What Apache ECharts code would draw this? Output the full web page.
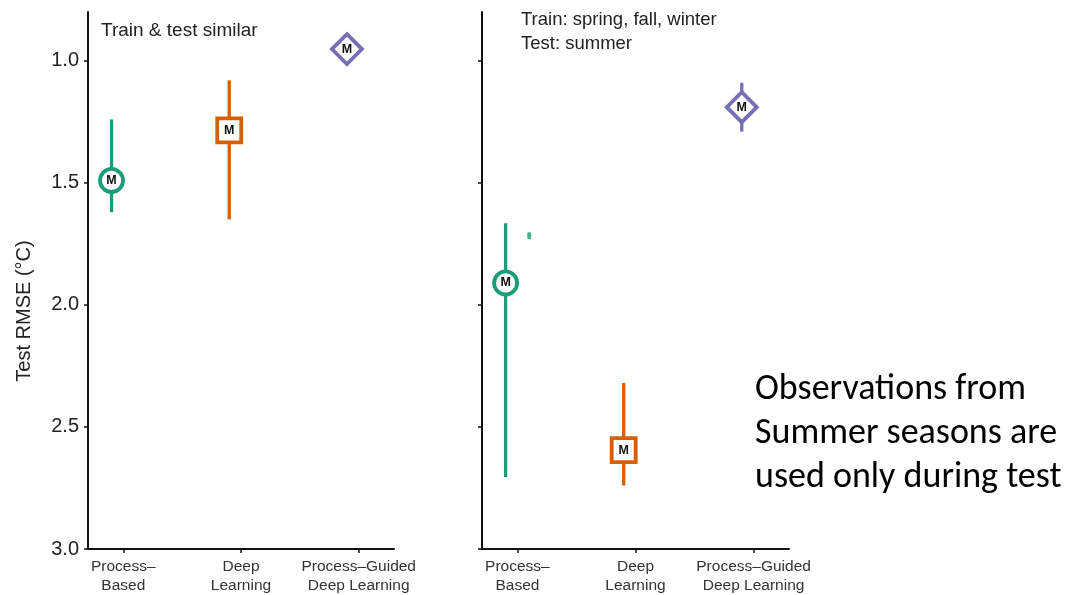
<!DOCTYPE html>
<html>
<head>
<meta charset="utf-8">
<script src="https://cdn.jsdelivr.net/npm/echarts@6/dist/echarts.min.js"></script>
<style>
  html, body { margin: 0; padding: 0; background: #fff; }
  #chart { width: 1065px; height: 595px; }
</style>
</head>
<body>
<div id="chart"></div>
<script>
// Model categories (x positions 1, 2, 3)
const categories = ['Process\u2013\nBased', 'Deep\nLearning', 'Process\u2013Guided\nDeep Learning'];
const yTicks = [1.0, 1.5, 2.0, 2.5, 3.0];

// Panel 1: train & test similar — mean and range of test RMSE (°C)
const similarMean = [1.49, 1.285, 0.952];
const similarLow  = [1.24, 1.08, 0.93];
const similarHigh = [1.62, 1.65, 0.975];

// Panel 2: train on spring/fall/winter, test on summer
const summerMean = [1.91, 2.595, 1.19];
const summerLow  = [1.665, 2.32, 1.09];
const summerHigh = [2.705, 2.74, 1.29];
// second dodged group, only a sliver of it visible
const summerStray = [1.717];

const colors = ['#1b9e77', '#d95f02', '#7570b3'];
const symbols = ['circle', 'rect', 'diamond'];
const symbolSizes = [[23, 23], [24, 24], [30, 30]];
const dodge = 0.1;   // horizontal offset of the two dodged groups

const baseFont = 'Liberation Sans, Arial, Helvetica, sans-serif';

function xAxisFor(gridIndex) {
  return {
    type: 'value', gridIndex, min: 0.7, max: 3.3,
    axisLine: { show: true, onZero: false, lineStyle: { color: '#111', width: 2 } },
    axisTick: { show: true, customValues: [1, 2, 3], length: 4, lineStyle: { color: '#111', width: 1.5 } },
    axisLabel: {
      customValues: [1, 2, 3], margin: 8,
      formatter: v => categories[Math.round(v) - 1],
      fontFamily: baseFont, fontSize: 15.5, lineHeight: 19, color: '#333'
    },
    splitLine: { show: false }
  };
}

function yAxisFor(gridIndex, showLabels) {
  return {
    type: 'value', gridIndex, inverse: true, min: 0.8, max: 3.0,
    axisLine: { show: true, onZero: false, lineStyle: { color: '#111', width: 2 } },
    axisTick: { show: true, customValues: yTicks, length: 4, lineStyle: { color: '#111', width: 1.5 } },
    axisLabel: {
      show: showLabels, customValues: yTicks, margin: 9,
      formatter: v => v.toFixed(1),
      fontFamily: baseFont, fontSize: 20, color: '#222'
    },
    splitLine: { show: false }
  };
}

// Vertical range bars drawn through the axis scales
function rangeSeries(axisIndex, low, high) {
  return {
    type: 'custom', xAxisIndex: axisIndex, yAxisIndex: axisIndex, z: 2,
    data: low.map((l, i) => [i + 1 - dodge, l, high[i], i]),
    renderItem: (params, api) => {
      const p1 = api.coord([api.value(0), api.value(1)]);
      const p2 = api.coord([api.value(0), api.value(2)]);
      return {
        type: 'line',
        shape: { x1: p1[0], y1: p1[1], x2: p2[0], y2: p2[1] },
        style: { stroke: colors[api.value(3)], lineWidth: 3.3 }
      };
    }
  };
}

function meanSeries(axisIndex, mean) {
  return mean.map((m, i) => ({
    type: 'scatter', xAxisIndex: axisIndex, yAxisIndex: axisIndex, z: 5,
    symbol: symbols[i], symbolSize: symbolSizes[i],
    data: [[i + 1 - dodge, m]],
    itemStyle: { color: '#fff', borderColor: colors[i], borderWidth: 3.8, opacity: 1 },
    label: {
      show: true, position: 'inside', formatter: 'M',
      fontFamily: baseFont, fontWeight: 'bold', fontSize: 12.5, color: '#111'
    },
    emphasis: { disabled: true }
  }));
}

const chart = echarts.init(document.getElementById('chart'));
chart.setOption({
  backgroundColor: '#fff',
  animation: false,
  grid: [
    { left: 88, top: 12, width: 306, height: 537, outerBoundsMode: 'none', containLabel: false },
    { left: 482, top: 12, width: 307, height: 537, outerBoundsMode: 'none', containLabel: false }
  ],
  xAxis: [xAxisFor(0), xAxisFor(1)],
  yAxis: [yAxisFor(0, true), yAxisFor(1, false)],
  series: [
    rangeSeries(0, similarLow, similarHigh),
    rangeSeries(1, summerLow, summerHigh),
    ...meanSeries(0, similarMean),
    ...meanSeries(1, summerMean),
    {
      type: 'scatter', xAxisIndex: 1, yAxisIndex: 1, z: 3,
      symbol: 'roundRect', symbolSize: [4, 7],
      data: summerStray.map(v => [1 + dodge, v]),
      itemStyle: { color: colors[0] }
    }
  ],
  graphic: [
    {
      type: 'text', x: 24, y: 311, rotation: Math.PI / 2,
      style: {
        text: 'Test RMSE (\u00b0C)', font: '20px ' + baseFont, fill: '#222',
        textAlign: 'center', textVerticalAlign: 'middle'
      }
    },
    {
      type: 'text', x: 101, y: 31,
      style: { text: 'Train & test similar', font: '19px ' + baseFont, fill: '#222', textVerticalAlign: 'middle' }
    },
    {
      type: 'text', x: 521, y: 31.75,
      style: {
        text: 'Train: spring, fall, winter\nTest: summer', font: '18.5px ' + baseFont,
        lineHeight: 23.5, fill: '#222', textVerticalAlign: 'middle'
      }
    },
    {
      type: 'text', x: 755, y: 434,
      style: {
        text: 'Observations from\nSummer seasons are\nused only during test',
        font: '36px Carlito, Lato, sans-serif', lineHeight: 44, fill: '#000', textVerticalAlign: 'middle'
      }
    }
  ]
});
</script>
</body>
</html>
